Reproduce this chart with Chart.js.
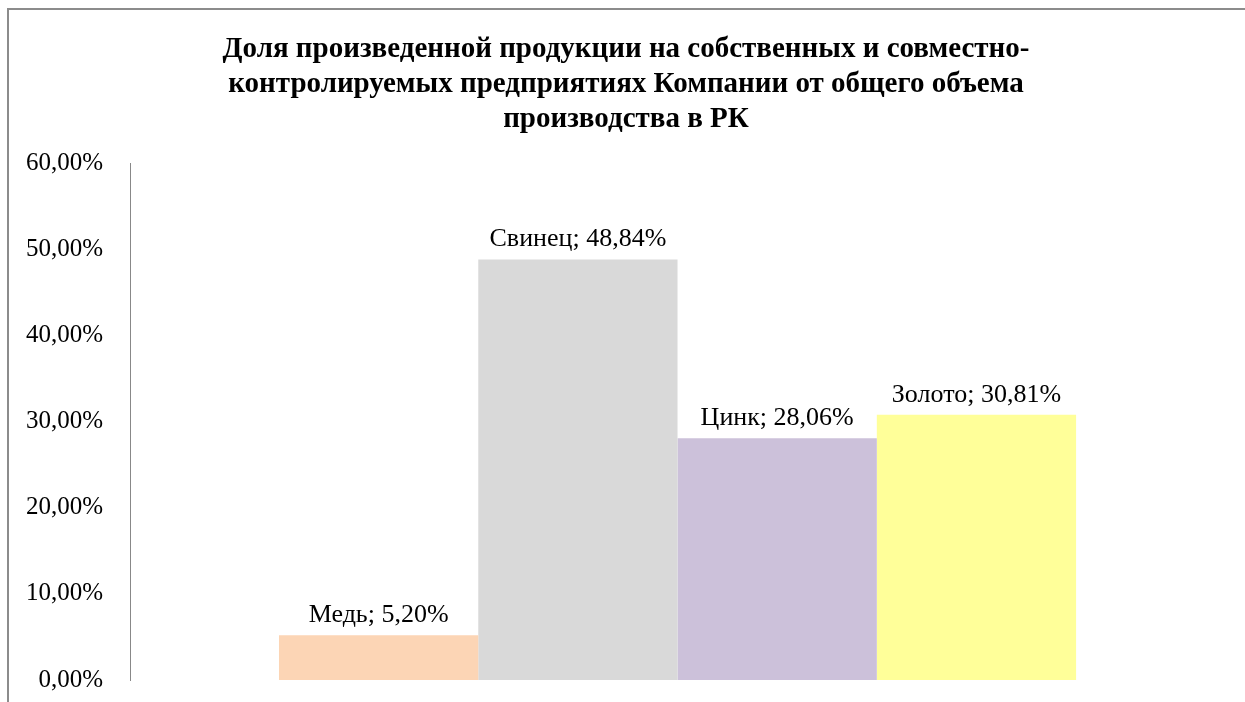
<!DOCTYPE html>
<html>
<head>
<meta charset="utf-8">
<script src="https://cdn.jsdelivr.net/npm/chart.js@4"></script>
<style>
  html, body { margin: 0; padding: 0; background: #fff; overflow: hidden; }
  #frame {
    position: absolute; left: 7px; top: 8px; width: 1250px; height: 740px;
    border: 2px solid #8c8c8c; box-sizing: border-box;
  }
  #wrap { position: absolute; left: 0; top: 0; width: 1245px; height: 722px; }
</style>
</head>
<body>
<div id="frame"></div>
<div id="wrap"><canvas id="myChart"></canvas></div>
<script>
var titleLines = [
  'Доля произведенной продукции на собственных и совместно-',
  'контролируемых предприятиях Компании от общего объема',
  'производства в РК'
];
var metals = ['Медь', 'Свинец', 'Цинк', 'Золото'];
var shares = [5.20, 48.84, 28.06, 30.81];
var barColors = ['#fcd5b5', '#d9d9d9', '#ccc1da', '#ffff99'];
var yTicks = [0, 10, 20, 30, 40, 50, 60];

function fmt(v) {
  return v.toFixed(2).replace('.', ',') + '%';
}

var datasets = metals.map(function(m, i) {
  return {
    label: m,
    data: [shares[i]],
    backgroundColor: barColors[i],
    borderWidth: 0,
    barPercentage: 1,
    categoryPercentage: 0.728
  };
});

// подписи над столбиками: "Название; значение"
var barLabels = {
  id: 'barLabels',
  afterDatasetsDraw: function(chart) {
    var ctx = chart.ctx;
    ctx.save();
    ctx.font = '26px "Liberation Serif"';
    ctx.fillStyle = '#000';
    ctx.textAlign = 'center';
    ctx.textBaseline = 'alphabetic';
    chart.data.datasets.forEach(function(ds, i) {
      var bar = chart.getDatasetMeta(i).data[0];
      ctx.fillText(ds.label + '; ' + fmt(ds.data[0]), bar.x, bar.y - 13);
    });
    ctx.restore();
  }
};

var ctx = document.getElementById('myChart');
var myChart = new Chart(ctx, {
  type: 'bar',
  data: {
    labels: [''],
    datasets: datasets
  },
  plugins: [barLabels],
  options: {
    responsive: true,
    maintainAspectRatio: false,
    animation: false,
    layout: { padding: { left: -1, right: -8, top: 0, bottom: 4 } },
    plugins: {
      legend: { display: false },
      tooltip: { enabled: false },
      title: {
        display: true,
        text: titleLines,
        color: '#000',
        font: { family: '"Liberation Serif"', size: 29, weight: 'bold', lineHeight: 1.21 },
        padding: { top: 32, bottom: 26 }
      }
    },
    scales: {
      x: { display: false },
      y: {
        min: 0,
        max: 60,
        afterBuildTicks: function(axis) {
          axis.ticks = yTicks.map(function(v) { return { value: v }; });
        },
        grid: { display: false, drawTicks: false },
        border: { display: true, color: '#888888', width: 1 },
        ticks: {
          color: '#000',
          padding: 27,
          font: { family: '"Liberation Serif"', size: 25 },
          callback: function(v) { return fmt(v); }
        }
      },
      // пустое место справа от области построения
      yRight: {
        position: 'right',
        grid: { display: false, drawTicks: false },
        border: { display: false },
        ticks: { display: false },
        afterFit: function(axis) { axis.width = 28; }
      }
    }
  }
});
</script>
</body>
</html>
